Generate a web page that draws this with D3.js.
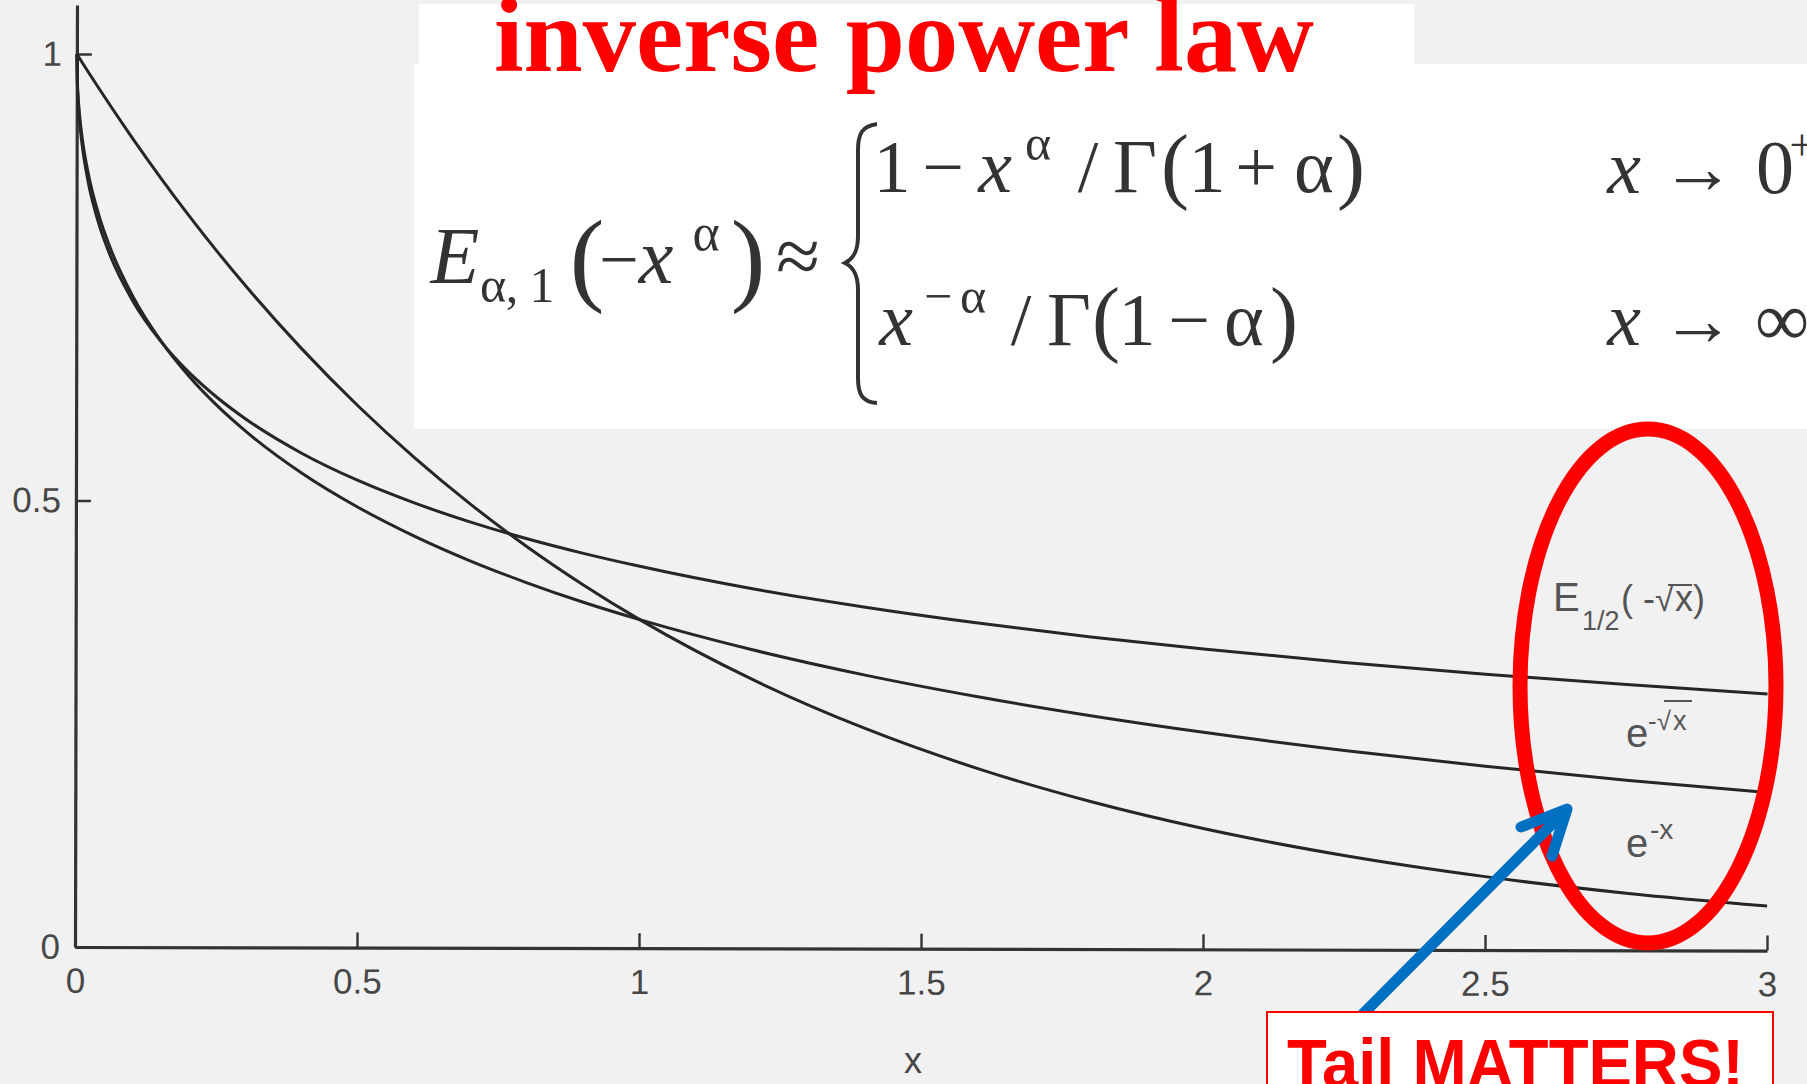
<!DOCTYPE html>
<html><head><meta charset="utf-8">
<script src="https://cdn.jsdelivr.net/npm/d3@7"></script>
<style>html,body{margin:0;padding:0;background:#f0f0f0;overflow:hidden}</style>
</head><body>
<svg id="chart" width="1807" height="1084"></svg>
<script>
// ---- data ----
const xValues = [0,0.001,0.002,0.005,0.01,0.02,0.04,0.06,0.1,0.15,0.2,0.25,0.3,0.4,0.5,0.6,0.7,0.8,0.9,1.0,1.2,1.4,1.6,1.8,2.0,2.25,2.5,2.75,3.0];
const expMinusX = [1,0.9990,0.9980,0.9950,0.9900,0.9802,0.9608,0.9418,0.9048,0.8607,0.8187,0.7788,0.7408,0.6703,0.6065,0.5488,0.4966,0.4493,0.4066,0.3679,0.3012,0.2466,0.2019,0.1653,0.1353,0.1054,0.0821,0.0639,0.0498];
const expMinusSqrtX = [1,0.9689,0.9563,0.9317,0.9048,0.8681,0.8187,0.7828,0.7289,0.6789,0.6394,0.6065,0.5783,0.5313,0.4931,0.4609,0.4331,0.4089,0.3872,0.3679,0.3344,0.3063,0.2823,0.2614,0.2431,0.2231,0.2057,0.1905,0.1769];
const mittagLeffler = [1,0.9653,0.9515,0.9250,0.8965,0.8585,0.8090,0.7742,0.7236,0.6784,0.6438,0.6157,0.5920,0.5535,0.5231,0.4981,0.4767,0.4582,0.4420,0.4276,0.4027,0.3824,0.3649,0.3496,0.3363,0.3216,0.3088,0.2975,0.2873];
const xTicks = [0,0.5,1,1.5,2,2.5,3];
const xTickLabels = ["0","0.5","1","1.5","2","2.5","3"];
const yTicks = [0,0.5,1];
const yTickLabels = ["0","0.5","1"];
const titleText = "inverse power law";
const xAxisTitle = "x";
const calloutText = "Tail MATTERS!";

const svg = d3.select("#chart");
const W = 1807, H = 1084;

// background (scanned page look)
svg.append("rect").attr("width",W).attr("height",H).attr("fill","#f1f1f1");
// white patches behind title and formula
svg.append("rect").attr("x",419).attr("y",4).attr("width",995).attr("height",62).attr("fill","#ffffff");
svg.append("rect").attr("x",414).attr("y",64).attr("width",W-414).attr("height",365).attr("fill","#ffffff");

// ---- plot ----
const x = d3.scaleLinear().domain([0,3]).range([75,1767]);
const y = d3.scaleLinear().domain([0,1]).range([947,54]);

const plot = svg.append("g").attr("transform","rotate(0.12,75,947)");

const inkAxis = "#333";
// x axis
const xAxis = d3.axisBottom(x).tickValues(xTicks)
  .tickFormat((d,i)=>xTickLabels[i]).tickSizeInner(-15).tickSizeOuter(0).tickPadding(21);
const gx = plot.append("g").attr("transform",`translate(0,${y(0)})`).call(xAxis);
gx.select(".domain").attr("stroke",inkAxis).attr("stroke-width",3.2);
gx.selectAll(".tick line").attr("stroke",inkAxis).attr("stroke-width",2.4);
gx.selectAll(".tick text").attr("fill","#474747").attr("font-family","Liberation Sans, Arial, sans-serif").attr("font-size",35);

// y axis (extends a bit above 1)
const yAxisScale = d3.scaleLinear().domain([0,1.055]).range([y(0), y(1.055)]);
const yAxis = d3.axisLeft(yAxisScale).tickValues(yTicks)
  .tickFormat((d,i)=>yTickLabels[i]).tickSizeInner(-15).tickSizeOuter(0).tickPadding(15);
const gy = plot.append("g").attr("transform",`translate(${x(0)},0)`).call(yAxis);
gy.select(".domain").attr("stroke",inkAxis).attr("stroke-width",3.2);
gy.selectAll(".tick line").attr("stroke",inkAxis).attr("stroke-width",2.4);
gy.selectAll(".tick text").attr("fill","#474747").attr("font-family","Liberation Sans, Arial, sans-serif").attr("font-size",35);

// curves
const series = [expMinusX, expMinusSqrtX, mittagLeffler];
const line = d3.line().x((d,i)=>x(xValues[i])).y(d=>y(d)).curve(d3.curveMonotoneX);
plot.selectAll("path.curve").data(series).enter().append("path")
  .attr("class","curve").attr("d",line)
  .attr("fill","none").attr("stroke","#262626").attr("stroke-width",3);

// axis title
svg.append("text").attr("x",913).attr("y",1073).attr("text-anchor","middle")
  .attr("font-family","Liberation Sans, Arial, sans-serif").attr("font-size",36).attr("fill","#474747").text(xAxisTitle);

// curve labels
const labFont = "Liberation Sans, Arial, sans-serif", labCol = "#555";
function lab(t,xx,yy,sz){ return svg.append("text").attr("x",xx).attr("y",yy).attr("font-family",labFont).attr("font-size",sz).attr("fill",labCol).text(t); }
lab("E",1553,611,40);
lab("1/2",1582,630,27);
lab("( -",1621,611,36);
lab("√",1655,611,34);
lab("x)",1675,611,36);
svg.append("line").attr("x1",1668).attr("x2",1692).attr("y1",585).attr("y2",585).attr("stroke",labCol).attr("stroke-width",2);
lab("e",1626,747,40);
lab("-√",1648,730,26);
lab("x",1673,730,27);
svg.append("line").attr("x1",1664).attr("x2",1692).attr("y1",701).attr("y2",701).attr("stroke",labCol).attr("stroke-width",2);
lab("e",1626,857,40);
lab("-x",1650,839,28);

// ---- formula ----
const fCol = "#333";
const serif = "Liberation Serif, Times New Roman, serif";
function tok(t,cx,by,sz,italic){
  return svg.append("text").attr("x",cx).attr("y",by).attr("text-anchor","middle")
    .attr("font-family",serif).attr("font-size",sz).attr("font-style",italic?"italic":"normal")
    .attr("fill",fCol).text(t);
}
// left side
tok("E",455,283,80,true);
tok("α",493,302,50);
tok(",",512,302,50);
tok("1",542,302,50);
tok("(",587,292,104);
tok("−",619,283,70);
tok("x",656,283,78,true);
tok("α",706,250,52);
tok(")",748,292,104);
tok("≈",798,283,80);
// brace
svg.append("path")
  .attr("d","M877,124 C862,126 858,134 858,150 L858,236 C858,252 853,259 845,263 C853,267 858,274 858,290 L858,378 C858,394 862,402 877,403")
  .attr("fill","none").attr("stroke",fCol).attr("stroke-width",4);
// line 1
tok("1",892,192,74);
tok("−",943,192,74);
tok("x",995,192,76,true);
tok("α",1038,160,50);
tok("/",1088,192,74);
tok("Γ",1135,192,76);
tok("(",1175,193,84);
tok("1",1207,192,74);
tok("+",1256,192,74);
tok("α",1314,192,76);
tok(")",1351,193,84);
// line 2
tok("x",896,345,76,true);
tok("−",938,313,50);
tok("α",973,313,50);
tok("/",1021,345,74);
tok("Γ",1069,345,76);
tok("(",1106,346,84);
tok("1",1137,345,74);
tok("−",1189,345,74);
tok("α",1244,345,76);
tok(")",1284,346,84);
// right column
tok("x",1624,193,76,true);
tok("→",1698,193,74);
tok("0",1775,193,76);
tok("+",1802,160,44);
tok("x",1624,345,76,true);
tok("→",1698,345,74);
tok("∞",1782,345,76);

// ---- title ----
svg.append("text").attr("x",494).attr("y",71)
  .attr("font-family",serif).attr("font-weight","bold").attr("font-size",106)
  .attr("fill","#ff0000").attr("textLength",820).attr("lengthAdjust","spacingAndGlyphs").text(titleText);

// ---- annotations ----
svg.append("ellipse").attr("cx",1648).attr("cy",686).attr("rx",128).attr("ry",257)
  .attr("fill","none").attr("stroke","#ff0000").attr("stroke-width",15);

const blue = "#0070c0";
svg.append("line").attr("x1",1344).attr("y1",1033).attr("x2",1562).attr("y2",814)
  .attr("stroke",blue).attr("stroke-width",11).attr("stroke-linecap","round");
svg.append("path").attr("d","M1521,827 L1567,809 L1552,856")
  .attr("fill","none").attr("stroke",blue).attr("stroke-width",11)
  .attr("stroke-linecap","round").attr("stroke-linejoin","round");

svg.append("rect").attr("x",1267).attr("y",1012).attr("width",506).attr("height",90)
  .attr("fill","#ffffff").attr("stroke","#ff0000").attr("stroke-width",2);
svg.append("text").attr("x",1287).attr("y",1087)
  .attr("font-family","Liberation Sans, Arial, sans-serif").attr("font-weight","bold").attr("font-size",68)
  .attr("fill","#ff0000").attr("textLength",457).attr("lengthAdjust","spacingAndGlyphs").text(calloutText);
</script>
</body></html>
